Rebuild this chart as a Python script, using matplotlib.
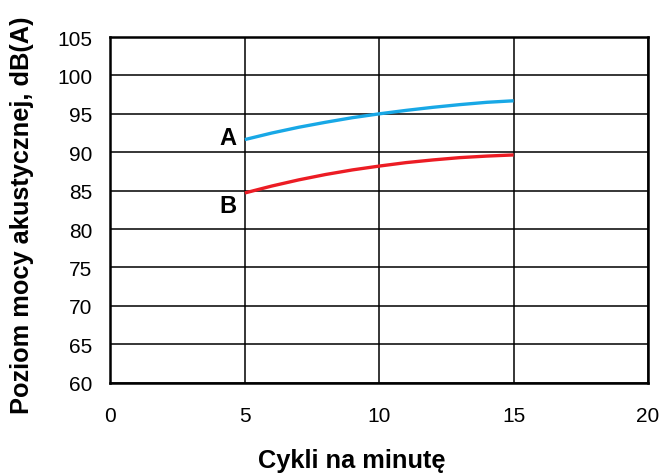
import numpy as np
import matplotlib
matplotlib.use("Agg")
import matplotlib.pyplot as plt

plt.rcParams['font.family'] = ['Liberation Sans', 'DejaVu Sans']

# cycles per minute
cycles = [5, 6, 7, 8, 9, 10, 11, 12, 13, 14, 15]
# sound power level, dB(A)
level_a = [91.65, 92.5, 93.25, 93.9, 94.5, 95.0, 95.45, 95.85, 96.2, 96.5, 96.7]
level_b = [84.7, 85.6, 86.4, 87.1, 87.7, 88.2, 88.65, 89.0, 89.3, 89.5, 89.65]

xticks = [0, 5, 10, 15, 20]
yticks = [60, 65, 70, 75, 80, 85, 90, 95, 100, 105]

fig = plt.figure(figsize=(6.6, 4.77), dpi=100)
ax = fig.add_axes([0.1674, 0.1956, 0.8144, 0.7247])

ax.plot(cycles, level_a, color='#18a8e6', lw=2.4, solid_capstyle='butt')
ax.plot(cycles, level_b, color='#ec1c24', lw=2.4, solid_capstyle='butt')

ax.text(4.37, 91.9, 'A', fontsize=17, fontweight='bold', ha='center', va='center')
ax.text(4.37, 83.1, 'B', fontsize=17, fontweight='bold', ha='center', va='center')

ax.set_xlim(0, 20)
ax.set_ylim(60, 105)
ax.set_xticks(xticks)
ax.set_yticks(yticks)
ax.grid(True, color='black', lw=1.1)
ax.set_axisbelow(True)
ax.tick_params(length=0, labelsize=15)
ax.tick_params(axis='x', pad=17)
ax.tick_params(axis='y', pad=13)
for s in ax.spines.values():
    s.set_linewidth(1.8)

# axis titles placed on the figure, like the original
fig.text(352 / 660, 1 - 468 / 477, 'Cykli na minutę', fontsize=18.3,
         fontweight='bold', ha='center', va='baseline')
fig.text(22 / 660, 1 - 215 / 477, 'Poziom mocy akustycznej, dB(A)', fontsize=18.3,
         fontweight='bold', ha='center', va='center', rotation=90)

fig.savefig('out.png', dpi=100)
